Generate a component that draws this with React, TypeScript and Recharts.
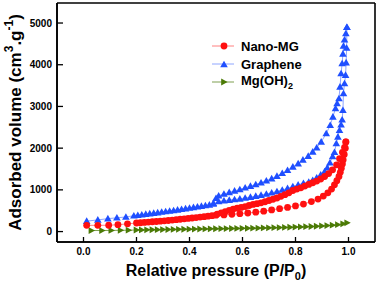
import { LineChart, Line, XAxis, YAxis, CartesianGrid } from 'recharts';

// relative pressure ticks and volume ticks
const xTicks = [0, 0.2, 0.4, 0.6, 0.8, 1.0];
const yTicks = [0, 1000, 2000, 3000, 4000, 5000];

// Graphene, adsorption branch
const grapheneAdsP = [0.012, 0.054, 0.092, 0.126, 0.16, 0.19, 0.205, 0.22, 0.235, 0.25, 0.265, 0.28, 0.295, 0.31, 0.325, 0.34, 0.355, 0.37, 0.385, 0.4, 0.415, 0.43, 0.445, 0.46, 0.475, 0.49, 0.51, 0.53, 0.55, 0.57, 0.59, 0.61, 0.63, 0.65, 0.67, 0.69, 0.71, 0.73, 0.75, 0.77, 0.79, 0.81, 0.83, 0.85, 0.865, 0.88, 0.895, 0.91, 0.92, 0.93, 0.94, 0.947, 0.954, 0.96, 0.966, 0.972, 0.976, 0.979, 0.981, 0.985, 0.989, 0.991, 0.993, 0.994];
const grapheneAdsV = [250, 280, 310, 330, 350, 380, 392, 405, 418, 430, 442, 455, 468, 480, 493, 506, 520, 535, 550, 565, 580, 595, 610, 625, 640, 660, 720, 740, 755, 770, 785, 805, 825, 850, 875, 900, 930, 960, 995, 1035, 1080, 1120, 1160, 1190, 1230, 1290, 1360, 1440, 1530, 1650, 1800, 1900, 2110, 2270, 2430, 2560, 2680, 2910, 3310, 3550, 3750, 4050, 4400, 4900];
// Graphene, desorption branch
const grapheneDesP = [0.994, 0.99, 0.985, 0.981, 0.979, 0.976, 0.972, 0.968, 0.964, 0.957, 0.951, 0.941, 0.931, 0.916, 0.897, 0.88, 0.865, 0.848, 0.828, 0.81, 0.79, 0.77, 0.75, 0.73, 0.71, 0.69, 0.67, 0.65, 0.63, 0.61, 0.59, 0.57, 0.55, 0.53, 0.51, 0.5, 0.49];
const grapheneDesV = [4900, 4750, 4600, 4450, 4260, 4030, 3790, 3470, 3190, 3070, 2950, 2750, 2550, 2350, 2150, 2010, 1910, 1810, 1720, 1630, 1550, 1470, 1400, 1330, 1270, 1220, 1170, 1130, 1090, 1050, 1010, 975, 940, 900, 860, 800, 680];

// Nano-MG
const nanoAdsP = [0.012, 0.054, 0.095, 0.13, 0.166, 0.2, 0.215, 0.23, 0.245, 0.26, 0.275, 0.29, 0.305, 0.32, 0.335, 0.35, 0.365, 0.38, 0.395, 0.41, 0.425, 0.44, 0.455, 0.47, 0.485, 0.5, 0.53, 0.56, 0.59, 0.62, 0.65, 0.68, 0.71, 0.74, 0.77, 0.8, 0.83, 0.86, 0.885, 0.905, 0.922, 0.936, 0.947, 0.956, 0.964, 0.969, 0.973, 0.977, 0.98, 0.984, 0.988, 0.99];
const nanoAdsV = [150, 150, 152, 165, 185, 205, 212, 220, 227, 235, 242, 250, 258, 266, 275, 285, 295, 305, 315, 325, 336, 347, 358, 370, 382, 392, 400, 415, 430, 445, 465, 490, 520, 550, 580, 615, 660, 720, 780, 850, 930, 1020, 1120, 1220, 1320, 1420, 1520, 1620, 1720, 1850, 2000, 2150];
const nanoDesP = [0.99, 0.985, 0.977, 0.966, 0.955, 0.94, 0.925, 0.91, 0.895, 0.88, 0.865, 0.85, 0.835, 0.82, 0.805, 0.79, 0.775, 0.76, 0.745, 0.73, 0.715, 0.7, 0.685, 0.67, 0.655, 0.64, 0.625, 0.61, 0.595, 0.58, 0.565, 0.55, 0.535, 0.52, 0.505];
const nanoDesV = [2150, 2020, 1900, 1750, 1600, 1480, 1390, 1320, 1260, 1210, 1170, 1130, 1090, 1050, 1020, 985, 930, 885, 845, 805, 775, 745, 715, 690, 670, 650, 625, 600, 580, 560, 540, 510, 480, 450, 420];

// Mg(OH)2
const mgP = [0.03, 0.07, 0.105, 0.14, 0.17, 0.2, 0.22, 0.24, 0.26, 0.28, 0.3, 0.32, 0.34, 0.36, 0.38, 0.4, 0.42, 0.44, 0.46, 0.48, 0.5, 0.52, 0.54, 0.56, 0.58, 0.6, 0.62, 0.64, 0.66, 0.68, 0.7, 0.72, 0.74, 0.76, 0.78, 0.8, 0.82, 0.84, 0.86, 0.88, 0.9, 0.92, 0.94, 0.96, 0.98, 0.995];
const mgV = [25, 25, 28, 30, 33, 38, 40, 42, 44, 46, 48, 50, 52, 54, 56, 58, 60, 62, 64, 66, 68, 70, 72, 74, 76, 78, 80, 82, 85, 88, 91, 94, 97, 100, 104, 108, 112, 117, 122, 128, 135, 143, 153, 166, 185, 210];

const pairs = (p, v) => p.map((x, i) => ({ x, y: v[i] }));

const RED = '#ff1010';
const BLUE = '#1f4fff';
const GREEN = '#4b7a06';
const FONT = 'Arial, "Liberation Sans", sans-serif';

function circleDot(props) {
    const { cx, cy, index } = props;
    if (cx == null || cy == null) return <g key={index} />;
    return <circle key={index} cx={cx} cy={cy} r={3.4} fill={RED} stroke="none" />;
}

function upTriangle(props) {
    const { cx, cy, index } = props;
    if (cx == null || cy == null) return <g key={index} />;
    return <path key={index} d={`M${cx},${cy - 3.8}L${cx + 3.8},${cy + 2.8}L${cx - 3.8},${cy + 2.8}Z`} fill={BLUE} />;
}

function rightTriangle(props) {
    const { cx, cy, index } = props;
    if (cx == null || cy == null) return <g key={index} />;
    return <path key={index} d={`M${cx + 3.6},${cy}L${cx - 2.8},${cy - 3.4}L${cx - 2.8},${cy + 3.4}Z`} fill={GREEN} />;
}

const legendItems = [
    { name: 'Nano-MG', line: '#ff8080', shape: 'circle' },
    { name: 'Graphene', line: '#8fa6ff', shape: 'up' },
    { name: 'Mg(OH)', sub: '2', line: '#7f9f50', shape: 'right' },
];

function ChartLegend() {
    return (
        <div style={{ position: 'absolute', left: 209, top: 37, fontFamily: FONT, fontWeight: 'bold', fontSize: 13 }}>
            {legendItems.map((item) => (
                <div key={item.name} style={{ display: 'flex', alignItems: 'center', height: 18 }}>
                    <svg width={32} height={18}>
                        <line x1={3} y1={9} x2={25} y2={9} stroke={item.line} strokeWidth={1} />
                        {item.shape === 'circle' && circleDot({ cx: 15, cy: 9, index: 0 })}
                        {item.shape === 'up' && upTriangle({ cx: 15, cy: 9.5, index: 0 })}
                        {item.shape === 'right' && rightTriangle({ cx: 15, cy: 9, index: 0 })}
                    </svg>
                    <span>
                        {item.name}
                        {item.sub && <sub style={{ fontSize: 9 }}>{item.sub}</sub>}
                    </span>
                </div>
            ))}
        </div>
    );
}

function XTitle(props) {
    const { viewBox } = props;
    return (
        <text x={viewBox.x + viewBox.width / 2} y={viewBox.y + 34} textAnchor="middle"
            fontFamily={FONT} fontWeight="bold" fontSize={16} fill="#000">
            Relative pressure (P/P<tspan dy={4} fontSize={11}>0</tspan><tspan dy={-4}>)</tspan>
        </text>
    );
}

function YTitle(props) {
    const { viewBox } = props;
    const cx = 15;
    const cy = viewBox.y + viewBox.height / 2;
    return (
        <text x={cx} y={cy} transform={`rotate(-90 ${cx} ${cy})`} textAnchor="middle" dominantBaseline="central"
            fontFamily={FONT} fontWeight="bold" fontSize={17} fill="#000">
            Adsorbed volume (cm<tspan dy={-6} fontSize={12}>3</tspan><tspan dy={6}>.g</tspan><tspan dy={-6} fontSize={12}>-1</tspan><tspan dy={6}>)</tspan>
        </text>
    );
}

const tickStyle = { fontFamily: FONT, fontWeight: 'bold', fontSize: 10, fill: '#000' };
const frameLine = { stroke: '#000', strokeWidth: 1.6 };

// frame lines on the plot-area edges (from the chart's own offset)
const frameRows = ({ offset }) => [offset.top, offset.top + offset.height];
const frameCols = ({ offset }) => [offset.left, offset.left + offset.width];

export default function App() {
    return (
        <div style={{ position: 'absolute', left: 0, top: 0, width: 378, height: 282, background: '#fff' }}>
            <LineChart width={378} height={282} margin={{ top: 3, right: 3, bottom: 0, left: 0 }}>
                <CartesianGrid stroke="#000" strokeWidth={1.6} horizontalCoordinatesGenerator={frameRows}
                    verticalCoordinatesGenerator={frameCols} />
                <XAxis type="number" dataKey="x" domain={[-0.1, 1.1]} ticks={xTicks} allowDataOverflow
                    tickFormatter={(v) => v.toFixed(1)} tick={tickStyle} tickSize={-5} tickMargin={11}
                    axisLine={frameLine} tickLine={{ stroke: '#000', strokeWidth: 1.3 }} height={40}
                    label={<XTitle />} />
                <YAxis type="number" domain={[-250, 5480]} ticks={yTicks} allowDataOverflow
                    tick={tickStyle} tickSize={-6} tickMargin={11} width={57}
                    axisLine={frameLine} tickLine={{ stroke: '#000', strokeWidth: 1.3 }}
                    label={<YTitle />} />
                <Line data={pairs(mgP, mgV)} dataKey="y" type="linear" stroke="#7f9f50" strokeWidth={1}
                    dot={rightTriangle} activeDot={false} isAnimationActive={false} legendType="none" />
                <Line data={pairs(grapheneAdsP, grapheneAdsV)} dataKey="y" type="linear" stroke="#8fa6ff" strokeWidth={1}
                    dot={upTriangle} activeDot={false} isAnimationActive={false} legendType="none" />
                <Line data={pairs(grapheneDesP, grapheneDesV)} dataKey="y" type="linear" stroke="#8fa6ff" strokeWidth={1}
                    dot={upTriangle} activeDot={false} isAnimationActive={false} legendType="none" />
                <Line data={pairs(nanoAdsP, nanoAdsV)} dataKey="y" type="linear" stroke="#ff8080" strokeWidth={1}
                    dot={circleDot} activeDot={false} isAnimationActive={false} legendType="none" />
                <Line data={pairs(nanoDesP, nanoDesV)} dataKey="y" type="linear" stroke="#ff8080" strokeWidth={1}
                    dot={circleDot} activeDot={false} isAnimationActive={false} legendType="none" />
            </LineChart>
            <ChartLegend />
        </div>
    );
}
